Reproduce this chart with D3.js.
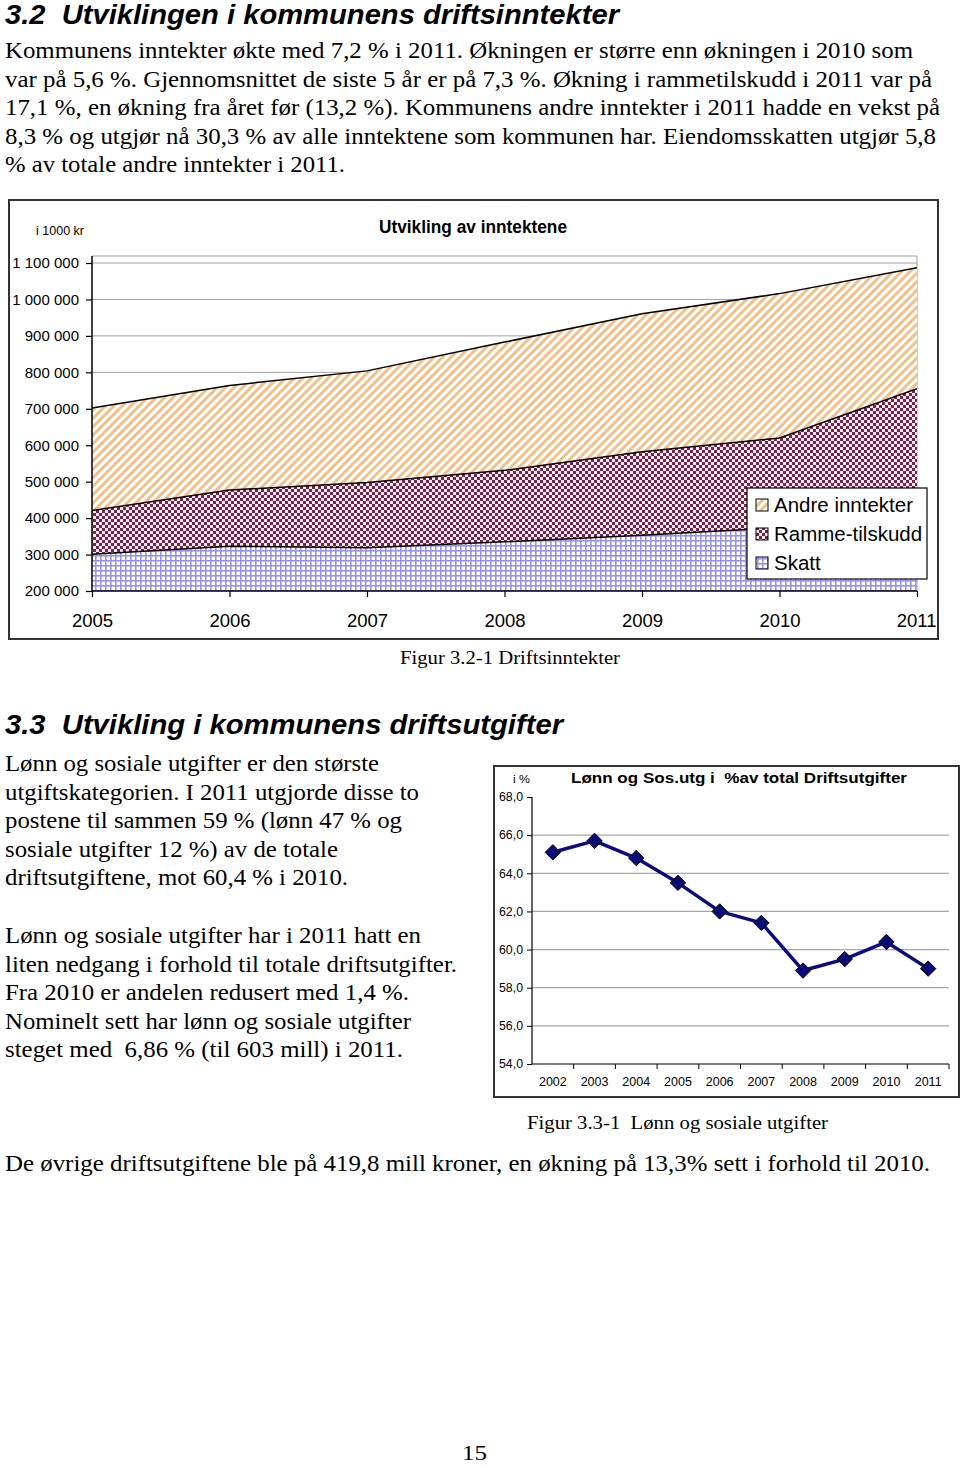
<!DOCTYPE html>
<html>
<head>
<meta charset="utf-8">
<script src="https://cdn.jsdelivr.net/npm/d3@7"></script>
<style>
  html, body { margin: 0; padding: 0; background: #fff; }
  svg { display: block; }
  text { white-space: pre; }
</style>
</head>
<body>
<script>
// ---------- Data ----------
const incomeYears = ["2005", "2006", "2007", "2008", "2009", "2010", "2011"];
const skatt = [301000, 323000, 319000, 335000, 353000, 374000, 390000];
const rammetilskudd = [120000, 154000, 179000, 196000, 229000, 246000, 365000];
const andreInntekter = [281000, 287000, 306000, 352000, 379000, 396000, 332000];
const incomeTicks = [200000, 300000, 400000, 500000, 600000, 700000, 800000, 900000, 1000000, 1100000];
const seriesNames = ["Skatt", "Ramme-tilskudd", "Andre inntekter"];

const wageYears = ["2002", "2003", "2004", "2005", "2006", "2007", "2008", "2009", "2010", "2011"];
const wageShare = [65.1, 65.7, 64.8, 63.5, 62.0, 61.4, 58.9, 59.5, 60.4, 59.0];
const wageTicks = [54, 56, 58, 60, 62, 64, 66, 68];

// ---------- Texts ----------
const para1 = [
  "Kommunens inntekter økte med 7,2 % i 2011. Økningen er større enn økningen i 2010 som",
  "var på 5,6 %. Gjennomsnittet de siste 5 år er på 7,3 %. Økning i rammetilskudd i 2011 var på",
  "17,1 %, en økning fra året før (13,2 %). Kommunens andre inntekter i 2011 hadde en vekst på",
  "8,3 % og utgjør nå 30,3 % av alle inntektene som kommunen har. Eiendomsskatten utgjør 5,8",
  "% av totale andre inntekter i 2011."
];
const para1W = [908, 927, 935, 931, 340];
const para2 = [
  "Lønn og sosiale utgifter er den største",
  "utgiftskategorien. I 2011 utgjorde disse to",
  "postene til sammen 59 % (lønn 47 % og",
  "sosiale utgifter 12 %) av de totale",
  "driftsutgiftene, mot 60,4 % i 2010."
];
const para2W = [374, 414, 397, 333, 343];
const para3 = [
  "Lønn og sosiale utgifter har i 2011 hatt en",
  "liten nedgang i forhold til totale driftsutgifter.",
  "Fra 2010 er andelen redusert med 1,4 %.",
  "Nominelt sett har lønn og sosiale utgifter",
  "steget med  6,86 % (til 603 mill) i 2011."
];
const para3W = [416, 452, 404, 406, 398];

const W = 960, H = 1466;
const svg = d3.select("body").append("svg").attr("width", W).attr("height", H);
svg.append("rect").attr("width", W).attr("height", H).attr("fill", "#fff");

const serif = "'Liberation Serif', 'Times New Roman', serif";
const sans = "'Liberation Sans', Arial, sans-serif";

function txt(x, y, s, size, len, opts = {}) {
  const t = svg.append("text").attr("x", x).attr("y", y)
    .attr("font-family", opts.family || serif)
    .attr("font-size", size)
    .attr("fill", "#000")
    .attr("xml:space", "preserve")
    .text(s);
  if (opts.weight) t.attr("font-weight", opts.weight);
  if (opts.style) t.attr("font-style", opts.style);
  if (len) t.attr("textLength", len).attr("lengthAdjust", "spacingAndGlyphs");
  return t;
}

// Headings & text
txt(5, 24, "3.2  Utviklingen i kommunens driftsinntekter", 27, 614, {family: sans, weight: "bold", style: "italic"});
para1.forEach((s, i) => txt(5, 58 + i * 28.6, s, 24, para1W[i]));
txt(400, 664, "Figur 3.2-1 Driftsinntekter", 18.5, 220);
txt(5, 734, "3.3  Utvikling i kommunens driftsutgifter", 27, 558, {family: sans, weight: "bold", style: "italic"});
para2.forEach((s, i) => txt(5, 771 + i * 28.6, s, 24, para2W[i]));
para3.forEach((s, i) => txt(5, 943 + i * 28.6, s, 24, para3W[i]));
txt(527, 1129, "Figur 3.3-1  Lønn og sosiale utgifter", 18.5, 301);
txt(5, 1171, "De øvrige driftsutgiftene ble på 419,8 mill kroner, en økning på 13,3% sett i forhold til 2010.", 24, 925);
txt(462, 1460, "15", 22, 25);

// ---------- Patterns ----------
const defs = svg.append("defs");
const pStripe = defs.append("pattern").attr("id", "pAndre").attr("patternUnits", "userSpaceOnUse")
  .attr("width", 6).attr("height", 6).attr("patternTransform", "rotate(45)");
pStripe.append("rect").attr("width", 6).attr("height", 6).attr("fill", "#fff");
pStripe.append("rect").attr("x", 0).attr("width", 3).attr("height", 6).attr("fill", "#f3c089");

const pCheck = defs.append("pattern").attr("id", "pRamme").attr("patternUnits", "userSpaceOnUse")
  .attr("width", 6).attr("height", 6);
pCheck.append("rect").attr("width", 6).attr("height", 6).attr("fill", "#fbeef2");
pCheck.append("rect").attr("width", 3).attr("height", 3).attr("fill", "#7a2146");
pCheck.append("rect").attr("x", 3).attr("y", 3).attr("width", 3).attr("height", 3).attr("fill", "#7a2146");

const pGrid = defs.append("pattern").attr("id", "pSkatt").attr("patternUnits", "userSpaceOnUse")
  .attr("width", 5).attr("height", 5);
pGrid.append("rect").attr("width", 5).attr("height", 5).attr("fill", "#fff");
pGrid.append("rect").attr("width", 5).attr("height", 1.6).attr("fill", "#9793e6");
pGrid.append("rect").attr("width", 1.6).attr("height", 5).attr("fill", "#9793e6");

const fills = ["url(#pSkatt)", "url(#pRamme)", "url(#pAndre)"];

// ---------- Chart 1: stacked area ----------
svg.append("rect").attr("x", 9).attr("y", 200).attr("width", 929).attr("height", 439)
  .attr("fill", "none").attr("stroke", "#333").attr("stroke-width", 2);

const c1 = {left: 92, right: 917, top: 256, bottom: 591};
const x1 = d3.scalePoint().domain(incomeYears).range([c1.left, c1.right]);
const y1 = d3.scaleLinear().domain([200000, 1100000]).range([591, 263]);

const locale = d3.formatLocale({decimal: ",", thousands: " ", grouping: [3], currency: ["", ""]});
const fmtInt = locale.format(",d");
const fmtPct = locale.format(".1f");

const g1 = svg.append("g");
g1.selectAll("line.grid").data(incomeTicks.slice(1)).join("line")
  .attr("x1", c1.left).attr("x2", c1.right)
  .attr("y1", d => y1(d)).attr("y2", d => y1(d))
  .attr("stroke", "#a0a0a0").attr("stroke-width", 1);
g1.append("path").attr("d", `M${c1.left},${c1.top}H${c1.right}V${c1.bottom}`)
  .attr("fill", "none").attr("stroke", "#a0a0a0").attr("stroke-width", 1);

defs.append("clipPath").attr("id", "clip1").append("rect")
  .attr("x", c1.left).attr("y", c1.top).attr("width", c1.right - c1.left).attr("height", c1.bottom - c1.top);

const rows = incomeYears.map((yr, i) => ({year: yr, s0: skatt[i], s1: rammetilskudd[i], s2: andreInntekter[i]}));
const stack = d3.stack().keys(["s0", "s1", "s2"]);
const layers = stack(rows);
const area1 = d3.area().x(d => x1(d.data.year)).y0(d => y1(d[0])).y1(d => y1(d[1]));
const line1 = d3.line().x(d => x1(d.data.year)).y(d => y1(d[1]));

const ga = g1.append("g").attr("clip-path", "url(#clip1)");
ga.selectAll("path.area").data(layers).join("path")
  .attr("d", area1).attr("fill", (d, i) => fills[i]).attr("stroke", "none");
ga.selectAll("path.top").data(layers).join("path")
  .attr("d", line1).attr("fill", "none").attr("stroke", "#000").attr("stroke-width", 1.5);

const yAxis1 = d3.axisLeft(y1).tickValues(incomeTicks).tickFormat(fmtInt).tickSize(6).tickPadding(7);
const ya = g1.append("g").attr("transform", `translate(${c1.left},0)`).call(yAxis1);
ya.select(".domain").attr("d", `M-0,${c1.top}H0V${c1.bottom}`).attr("stroke", "#000").attr("stroke-width", 1.5);
ya.selectAll(".tick line").attr("stroke", "#000").attr("stroke-width", 1.2);
ya.selectAll(".tick text").attr("font-family", sans).attr("font-size", 15).attr("fill", "#000");

const xAxis1 = d3.axisBottom(x1).tickSize(6).tickPadding(17);
const xa = g1.append("g").attr("transform", `translate(0,${c1.bottom})`).call(xAxis1);
xa.select(".domain").attr("d", `M${c1.left},0H${c1.right}`).attr("stroke", "#000").attr("stroke-width", 1.5);
xa.selectAll(".tick line").attr("stroke", "#000").attr("stroke-width", 1.2);
xa.selectAll(".tick text").attr("font-family", sans).attr("font-size", 18.5).attr("fill", "#000");
xa.selectAll(".tick:last-of-type text").attr("text-anchor", "end").attr("dx", 19);

txt(473, 233, "Utvikling av inntektene", 17.5, 188, {family: sans, weight: "bold"}).attr("text-anchor", "middle");
txt(36, 235, "i 1000 kr", 12, 48, {family: sans});

// legend
const lg = svg.append("g").attr("transform", "translate(747,488)");
lg.append("rect").attr("width", 180).attr("height", 91).attr("fill", "#fff").attr("stroke", "#000").attr("stroke-width", 1.2);
const legendItems = [2, 1, 0];
legendItems.forEach((k, i) => {
  const cy = 17 + i * 29;
  lg.append("rect").attr("x", 9).attr("y", cy - 6).attr("width", 12).attr("height", 12)
    .attr("fill", fills[k]).attr("stroke", "#000").attr("stroke-width", 1);
  lg.append("text").attr("x", 27).attr("y", cy + 7).attr("font-family", sans).attr("font-size", 20.5)
    .attr("fill", "#000").text(seriesNames[k]);
});

// ---------- Chart 2: line ----------
svg.append("rect").attr("x", 494).attr("y", 766).attr("width", 465).attr("height", 331)
  .attr("fill", "none").attr("stroke", "#333").attr("stroke-width", 2);

const c2 = {left: 532, right: 949, top: 797, bottom: 1064};
const x2 = d3.scaleBand().domain(wageYears).range([c2.left, c2.right]);
const y2 = d3.scaleLinear().domain([54, 68]).range([c2.bottom, c2.top]);

const g2 = svg.append("g");
g2.selectAll("line.grid").data(wageTicks.slice(1, -1)).join("line")
  .attr("x1", c2.left).attr("x2", c2.right)
  .attr("y1", d => y2(d)).attr("y2", d => y2(d))
  .attr("stroke", "#a8a8a8").attr("stroke-width", 1.2);

const yAxis2 = d3.axisLeft(y2).tickValues(wageTicks).tickFormat(fmtPct).tickSize(5).tickPadding(4);
const ya2 = g2.append("g").attr("transform", `translate(${c2.left},0)`).call(yAxis2);
ya2.select(".domain").attr("d", `M0,${c2.top}V${c2.bottom}`).attr("stroke", "#000").attr("stroke-width", 1.2);
ya2.selectAll(".tick line").attr("stroke", "#000");
ya2.selectAll(".tick text").attr("font-family", sans).attr("font-size", 12).attr("fill", "#000")
  .attr("textLength", 24).attr("lengthAdjust", "spacingAndGlyphs");

const xAxis2 = d3.axisBottom(x2).tickSize(0).tickPadding(13);
const xa2 = g2.append("g").attr("transform", `translate(0,${c2.bottom})`).call(xAxis2);
xa2.select(".domain").attr("d", `M${c2.left},0H${c2.right}`).attr("stroke", "#000").attr("stroke-width", 1.2);
xa2.selectAll(".tick text").attr("font-family", sans).attr("font-size", 12.5).attr("fill", "#000");
g2.selectAll("line.xt").data(wageYears).join("line")
  .attr("x1", d => x2(d) + x2.bandwidth()).attr("x2", d => x2(d) + x2.bandwidth())
  .attr("y1", c2.bottom).attr("y2", c2.bottom + 5).attr("stroke", "#000");

const line2 = d3.line().x((d, i) => x2(wageYears[i]) + x2.bandwidth() / 2).y(d => y2(d));
g2.append("path").datum(wageShare).attr("d", line2).attr("fill", "none")
  .attr("stroke", "#0b0b80").attr("stroke-width", 3.5).attr("stroke-linejoin", "round");
const diamond = d3.symbol().type(d3.symbolDiamond2).size(150);
g2.selectAll("path.pt").data(wageShare).join("path")
  .attr("transform", (d, i) => `translate(${x2(wageYears[i]) + x2.bandwidth() / 2},${y2(d)})`)
  .attr("d", diamond).attr("fill", "#0b0b78").attr("stroke", "#000").attr("stroke-width", 1);

txt(571, 783, "Lønn og Sos.utg i  %av total Driftsutgifter", 14, 336, {family: sans, weight: "bold"});
txt(513, 783, "i %", 11, 17, {family: sans});
</script>
</body>
</html>
